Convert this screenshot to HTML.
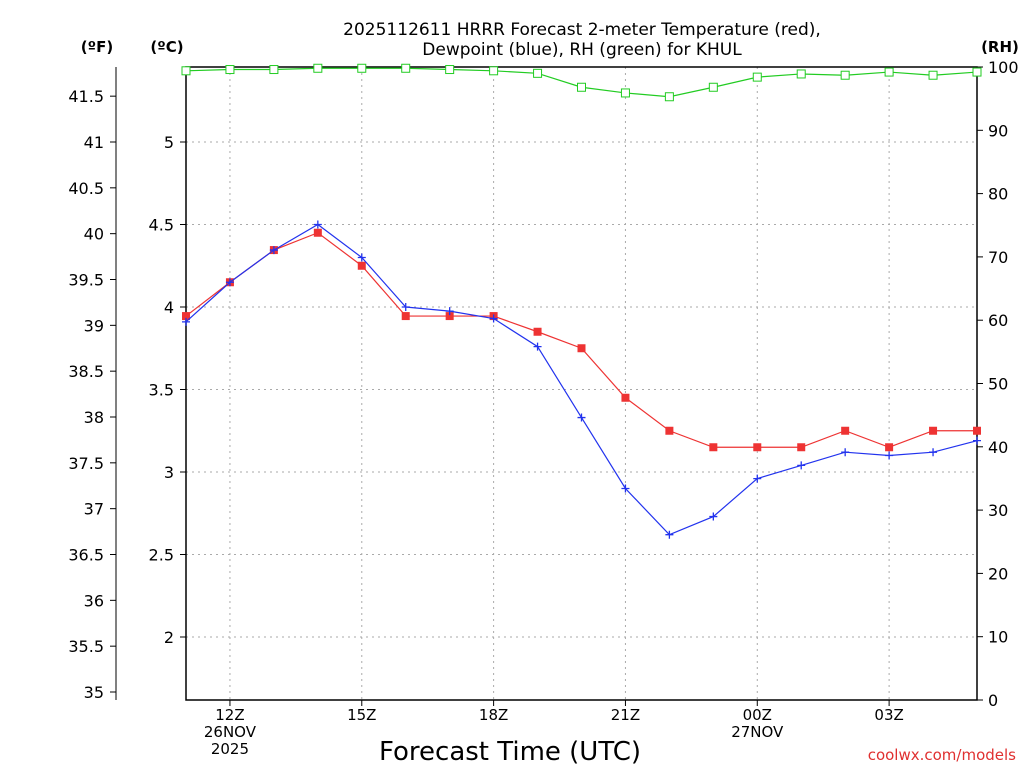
<!DOCTYPE html>
<html><head><meta charset="utf-8"><style>
body{margin:0;background:#fff;}
svg{display:block;font-family:"DejaVu Sans","Liberation Sans",sans-serif;}
</style></head><body>
<svg id="c" width="1024" height="768" xmlns="http://www.w3.org/2000/svg">
<text x="582" y="35" text-anchor="middle" font-size="17">2025112611 HRRR Forecast 2-meter Temperature (red),</text>
<text x="582" y="55" text-anchor="middle" font-size="17">Dewpoint (blue), RH (green) for KHUL</text>
<text x="97" y="52" text-anchor="middle" font-size="15" font-weight="bold">(ºF)</text>
<text x="167" y="52" text-anchor="middle" font-size="15" font-weight="bold">(ºC)</text>
<text x="1000" y="52" text-anchor="middle" font-size="15" font-weight="bold">(RH)</text>
<text x="510" y="760" text-anchor="middle" font-size="26">Forecast Time (UTC)</text>
<text x="1016" y="760" text-anchor="end" font-size="15" fill="#e03030">coolwx.com/models</text>
<g id="g"></g>
</svg>
<script>
const hours=["11","12","13","14","15","16","17","18","19","20","21","22","23","00","01","02","03","04","05"];
const tempC=[3.945,4.15,4.345,4.45,4.25,3.945,3.945,3.945,3.85,3.75,3.45,3.25,3.15,3.15,3.15,3.25,3.15,3.25,3.25];
const dewC=[3.91,4.15,4.345,4.5,4.3,4.0,3.975,3.93,3.76,3.33,2.9,2.62,2.73,2.96,3.04,3.12,3.10,3.12,3.19];
const rh=[99.4,99.6,99.6,99.8,99.8,99.8,99.6,99.4,99.0,96.8,95.9,95.3,96.8,98.4,98.9,98.7,99.2,98.7,99.2];
const cTicks=[2,2.5,3,3.5,4,4.5,5];
const fTicks=[35,35.5,36,36.5,37,37.5,38,38.5,39,39.5,40,40.5,41,41.5];
const rhTicks=[0,10,20,30,40,50,60,70,80,90,100];
const xTicks=[[1,"12Z","26NOV","2025"],[4,"15Z"],[7,"18Z"],[10,"21Z"],[13,"00Z","27NOV"],[16,"03Z"]];
const L=186,R=977,T=67,B=700;
const xs=i=>L+i*(R-L)/(hours.length-1);
const yc=c=>142+(5-c)*165;
const yf=f=>yc((f-32)/1.8);
const yr=r=>B-r*(B-T)/100;
const g=document.getElementById('g');
const NS="http://www.w3.org/2000/svg";
function el(t,a,txt){const e=document.createElementNS(NS,t);for(const k in a)e.setAttribute(k,a[k]);if(txt!==undefined)e.textContent=txt;g.appendChild(e);return e;}
cTicks.forEach(c=>{const y=yc(c);
 let e=el('line',{x1:L,x2:R,y1:y,y2:y,stroke:'#aaa','stroke-dasharray':'2,4'});
 
 e=el('line',{x1:L,x2:L-6,y1:y,y2:y,stroke:'#000'});
 
 e=el('text',{x:174,y:y+6,'text-anchor':'end','font-size':16},String(c));
 });
xTicks.forEach(t=>{const x=xs(t[0]);
 let e=el('line',{x1:x,x2:x,y1:T,y2:B,stroke:'#aaa','stroke-dasharray':'2,4'});
 
 e=el('line',{x1:x,x2:x,y1:B,y2:B+6,stroke:'#000'});
 
 t.slice(1).forEach((s,j)=>{const tx=el('text',{x:x,y:720+j*17,'text-anchor':'middle','font-size':15},s);
  });});
let a=el('line',{x1:116,x2:116,y1:T,y2:B,stroke:'#000'});

fTicks.forEach(f=>{const y=yf(f);
 let e=el('line',{x1:116,x2:110,y1:y,y2:y,stroke:'#000'});
 
 e=el('text',{x:104,y:y+6,'text-anchor':'end','font-size':16},String(f));
 });
rhTicks.forEach(r=>{const y=yr(r);
 let e=el('line',{x1:R,x2:R+6,y1:y,y2:y,stroke:'#000'});
 
 e=el('text',{x:988,y:y+6,'font-size':16},String(r));
 });
a=el('rect',{x:L,y:T,width:R-L,height:B-T,fill:'none',stroke:'#000','stroke-width':1.5});

function series(vals,yf2,col,name){
 const pl=el('polyline',{points:vals.map((v,i)=>xs(i)+','+yf2(v)).join(' '),fill:'none',stroke:col,'stroke-width':1.2});
 
 vals.forEach((v,i)=>{const x=xs(i),y=yf2(v);let m;
  if(name==='temperature')m=el('rect',{x:x-4,y:y-4,width:8,height:8,fill:col});
  else if(name==='rh')m=el('rect',{x:x-4,y:y-4,width:8,height:8,fill:'#fff',stroke:col});
  else m=el('path',{d:`M${x-4},${y}H${x+4}M${x},${y-4}V${y+4}`,stroke:col,'stroke-width':1.3});
  });}
series(rh,yr,'#22cc22','rh');
series(tempC,yc,'#ee3333','temperature');
series(dewC,yc,'#2233ee','dewpoint');
</script>
</body></html>
